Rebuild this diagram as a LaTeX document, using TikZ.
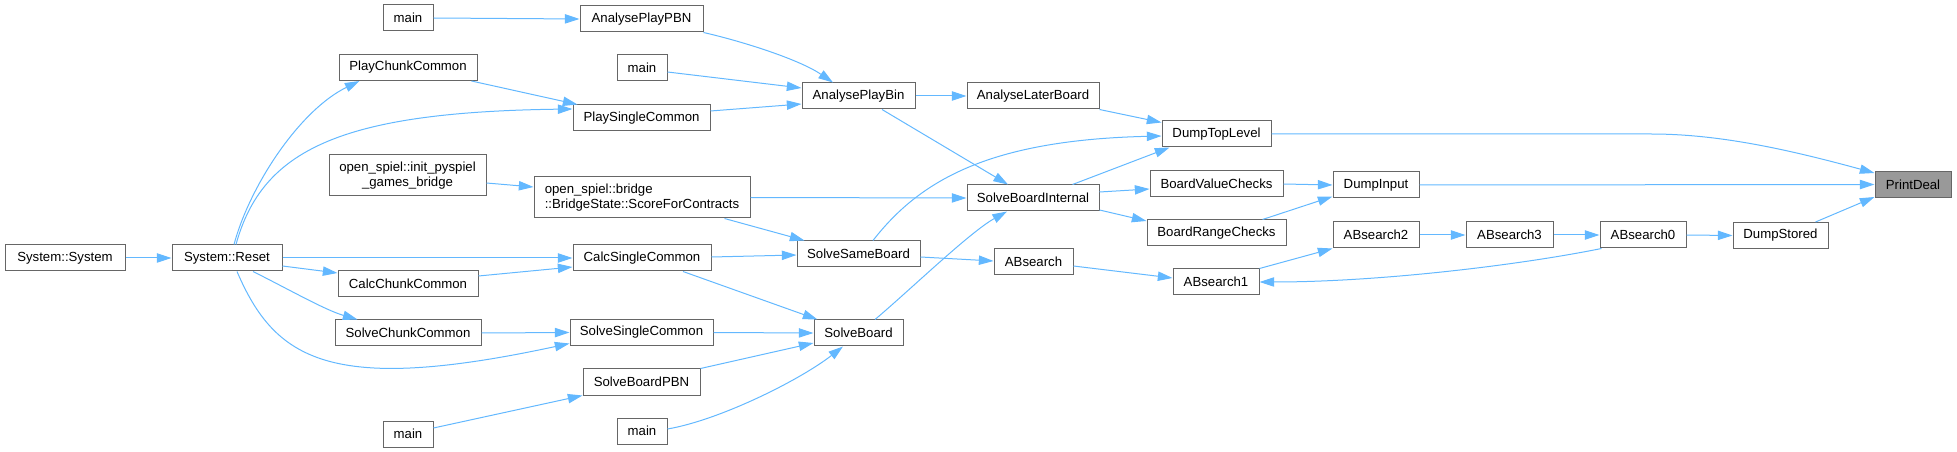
\documentclass[tikz,border=0pt]{standalone}
\usepackage{fontspec}
\setmainfont{Liberation Sans}
\usetikzlibrary{arrows.meta,calc}
\definecolor{edgec}{HTML}{63B8FF}
\definecolor{boxc}{HTML}{666666}
\definecolor{hl}{HTML}{999999}
\begin{document}
\begin{tikzpicture}[x=0.75pt,y=-0.75pt,
  box/.style={draw=boxc, fill=white, line width=0.75pt, inner sep=0pt, minimum height=19.5pt, font=\fontsize{9.9}{10.8}\selectfont},
  bw/.style={minimum width=#1*0.75pt},
  arr/.style={edgec, line width=0.75pt, -{Triangle[length=11pt,width=7pt]}},
]
\useasboundingbox (0,0) rectangle (1957,452);
% nodes
\node[box,bw=50] (m1) at (408,18) {main};
\node[box,bw=123] (apbn) at (641.5,19) {AnalysePlayPBN};
\node[box,bw=138] (pcc) at (408,67.5) {PlayChunkCommon};
\node[box,bw=50] (m2) at (642,68) {main};
\node[box,bw=137] (psc) at (641.5,118) {PlaySingleCommon};
\node[box,bw=113] (apb) at (858.5,96) {AnalysePlayBin};
\node[box,bw=132] (alb) at (1033,96) {AnalyseLaterBoard};
\node[box,bw=157,minimum height=30.75pt,align=center] (init) at (407.5,175.5) {open\_spiel::init\_pyspiel\\\_games\_bridge};
\node[box,bw=216,minimum height=30.75pt,align=left] (score) at (642,197.5) {open\_spiel::bridge\\::BridgeState::ScoreForContracts};
\node[box,bw=132] (sbi) at (1033,198) {SolveBoardInternal};
\node[box,bw=120] (sys) at (65,258) {System::System};
\node[box,bw=110] (reset) at (227,258) {System::Reset};
\node[box,bw=140] (cch) at (408,283.5) {CalcChunkCommon};
\node[box,bw=138] (css) at (642,258) {CalcSingleCommon};
\node[box,bw=123] (ssb) at (858.5,254) {SolveSameBoard};
\node[box,bw=79] (abs) at (1033.5,261.5) {ABsearch};
\node[box,bw=146] (sch) at (408,333) {SolveChunkCommon};
\node[box,bw=143] (ssc) at (641.5,332.5) {SolveSingleCommon};
\node[box,bw=89] (sb) at (858.5,333) {SolveBoard};
\node[box,bw=117] (sbpbn) at (641.5,382) {SolveBoardPBN};
\node[box,bw=50] (m3) at (408,434) {main};
\node[box,bw=50] (m4) at (642,431) {main};
\node[box,bw=109] (dtl) at (1216.5,134) {DumpTopLevel};
\node[box,bw=133] (bvc) at (1216.5,184) {BoardValueChecks};
\node[box,bw=139] (brc) at (1216.5,233) {BoardRangeChecks};
\node[box,bw=86] (ab1) at (1216,282) {ABsearch1};
\node[box,bw=86] (di) at (1376,185) {DumpInput};
\node[box,bw=86] (ab2) at (1376,235) {ABsearch2};
\node[box,bw=87] (ab3) at (1509.5,235) {ABsearch3};
\node[box,bw=86] (ab0) at (1643,235) {ABsearch0};
\node[box,bw=95] (ds) at (1780.5,235.5) {DumpStored};
\node[box,bw=76,fill=hl] (pd) at (1913,184.5) {PrintDeal};
% edges
\draw[arr] (m1.east) -- (apbn.west);
\draw[arr] (apbn.south east) .. controls (745,42) and (800,60) .. ($(apb.north)+(-25.5,0)$);
\draw[arr] ($(m2.east)+(0,4)$) -- ($(apb.west)+(0,-8)$);
\draw[arr] ($(psc.east)+(0,-7)$) -- ($(apb.west)+(0,8)$);
\draw[arr] ($(pcc.south east)+(-6,0)$) -- ($(psc.north west)+(5,0)$);
\draw[arr] ($(reset.north)+(9,0)$) .. controls (262,150) and (340,112) .. ($(psc.west)+(0,-9)$);
\draw[arr] ($(reset.north)+(7,0)$) .. controls (250,185) and (300,110) .. ($(pcc.south west)+(21,0)$);
\draw[arr] ($(init.east)+(0,7.5)$) -- ($(score.west)+(0,-10.5)$);
\draw[arr] (score.east) -- (sbi.west);
\draw[arr] ($(score.south east)+(-26,0)$) -- ($(ssb.north west)+(8,0)$);
\draw[arr] (apb.east) -- (alb.west);
\draw[arr] ($(apb.south)+(23.5,0)$) -- ($(sbi.north)+(-25,0)$);
\draw[arr] (alb.south east) -- ($(dtl.north west)+(0,2)$);
\draw[arr] ($(ssb.north)+(14.5,0)$) .. controls (920,180) and (990,140) .. ($(dtl.west)+(0,2)$);
\draw[arr] ($(sbi.north east)+(-27,0)$) -- ($(dtl.south west)+(8,0)$);
\draw[arr] ($(sbi.east)+(0,-6)$) -- ($(bvc.west)+(0,5)$);
\draw[arr] ($(sbi.east)+(0,12)$) -- ($(brc.west)+(0,-12)$);
\draw[arr] (bvc.east) -- (di.west);
\draw[arr] ($(brc.north east)+(-24,0)$) -- ($(di.south west)+(0,-2)$);
\draw[arr] (di.east) -- (pd.west);
\draw[arr] (dtl.east) -- (1651,134) .. controls (1720,134) and (1790,150) .. ($(pd.north west)+(0,2)$);
\draw[arr] ($(ds.north east)+(-13,0)$) -- ($(pd.south west)+(0,-1)$);
\draw[arr] (ab0.east) -- (ds.west);
\draw[arr] (ab3.east) -- (ab0.west);
\draw[arr] (ab2.east) -- (ab3.west);
\draw[arr] (ab1.north east) -- (ab2.south west);
\draw[arr] ($(ab0.south west)+(2,0)$) .. controls (1520,265) and (1380,282) .. (ab1.east);
\draw[arr] ($(abs.east)+(0,4.5)$) -- ($(ab1.west)+(0,-4)$);
\draw[arr] ($(ssb.east)+(0,3)$) -- ($(abs.west)+(0,-0.5)$);
\draw[arr] ($(css.east)+(0,-1)$) -- ($(ssb.west)+(0,1)$);
\draw[arr] ($(css.south)+(41,0)$) -- ($(sb.north west)+(4,0)$);
\draw[arr] ($(sb.north)+(16.5,0)$) .. controls (910,290) and (970,232) .. ($(sbi.south)+(-26,0)$);
\draw[arr] (ssc.east) -- (sb.west);
\draw[arr] (sbpbn.north east) -- ($(sb.west)+(0,10)$);
\draw[arr] ($(m4.east)+(0,-2)$) .. controls (720,420) and (800,380) .. ($(sb.south)+(-15.5,0)$);
\draw[arr] ($(m3.east)+(0,-6)$) -- (sbpbn.south west);
\draw[arr] (sys.east) -- (reset.west);
\draw[arr] (reset.east) -- (css.west);
\draw[arr] ($(reset.east)+(0,8)$) -- ($(cch.west)+(0,-10.5)$);
\draw[arr] ($(cch.east)+(0,-7.5)$) -- ($(css.west)+(0,9)$);
\draw[arr] ($(reset.south)+(26,0)$) .. controls (290,290) and (325,310) .. ($(sch.north west)+(23,0)$);
\draw[arr] (sch.east) -- (ssc.west);
\draw[arr] ($(reset.south)+(10,0)$) .. controls (275,360) and (330,395) .. ($(ssc.west)+(0,11)$);
\end{tikzpicture}
\end{document}
